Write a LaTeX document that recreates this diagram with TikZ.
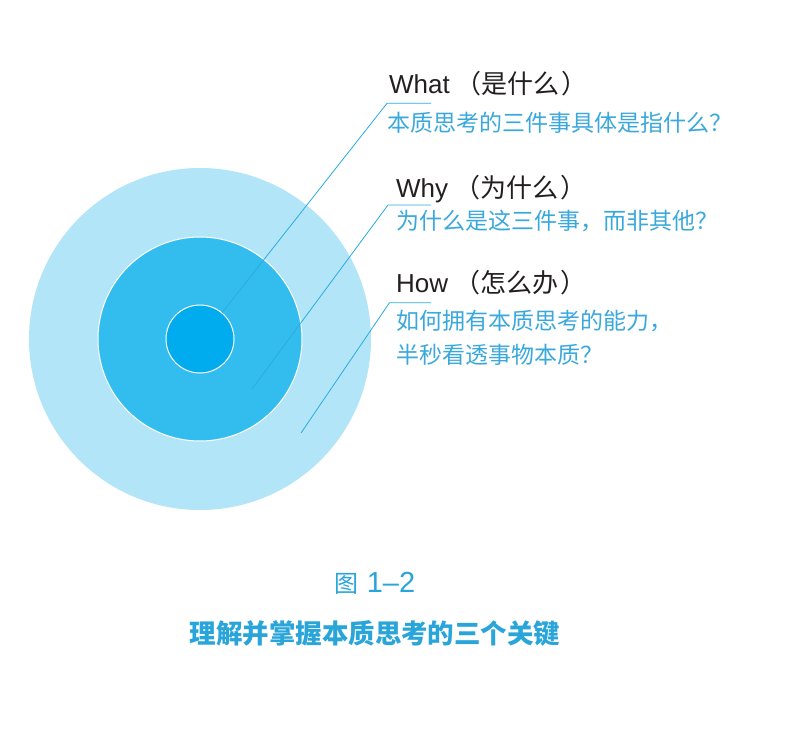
\documentclass[tikz,border=0pt]{standalone}
\usepackage{fontspec}
\setmainfont{Liberation Sans}
\newfontfamily\cjk{Noto Sans CJK SC}
\definecolor{ringout}{HTML}{B3E5F8}
\definecolor{ringmid}{HTML}{33BDEF}
\definecolor{ringin}{HTML}{00ACED}
\definecolor{leadblue}{HTML}{29ABE2}
\definecolor{qblue}{HTML}{3AA8DB}
\definecolor{capblue}{HTML}{2AA5DA}
\definecolor{dkgray}{HTML}{231F20}

\tikzset{
  ring/.style={circle,inner sep=0pt,draw=white,line width=1pt},
  lead/.style={leadblue,line width=0.8pt},
  head/.style={anchor=base west,inner sep=0pt,dkgray,font=\fontsize{26}{30}\selectfont},
  quest/.style={anchor=base west,inner sep=0pt,qblue,align=left,font=\cjk\fontsize{23}{33.3}\selectfont},
}

\begin{document}
\begin{tikzpicture}[x=1pt,y=-1pt]
\useasboundingbox (0,0) rectangle (788,734);

% ===== Rings =====
\node[ring,fill=ringout,draw=none,minimum size=342pt] (outer) at (200,339) {};
\node[ring,fill=ringmid,minimum size=204pt] (middle) at (200,339) {};
\node[ring,fill=ringin,minimum size=68pt] (inner) at (200,339) {};

% ===== Questions =====
\node[head] (what) at (389,93.3) {What\hspace{6pt}{\cjk（是什么\hspace{2pt}）}};
\node[quest] (whatq) at (387,131) {本质思考的三件事具体是指什么？};

\node[head] (why) at (396,197) {Why\hspace{6pt}{\cjk（为什么\hspace{2pt}）}};
\node[quest] (whyq) at (396,229.7) {为什么是这三件事，而非其他？};

\node[head] (how) at (396,292.7) {How\hspace{6pt}{\cjk（怎么办\hspace{2pt}）}};
% base of a two-line node sits on its last line
\node[quest] (howq) at (396,363) {如何拥有本质思考的能力，\\半秒看透事物本质？};

% ===== Leaders =====
\coordinate (whatknee) at (387,103.3);
\coordinate (whattail) at (431,103.3);
\coordinate (whyin) at (252,389);
\coordinate (whyknee) at (388,205);
\coordinate (whytail) at (431,205);
\coordinate (howin) at (301,433);
\coordinate (howknee) at (389.5,302.7);
\coordinate (howtail) at (431,302.7);

\draw[lead] (inner.50) -- (whatknee) -- (whattail);
\draw[lead] (whyin) -- (whyknee) -- (whytail);
\draw[lead] (howin) -- (howknee) -- (howtail);

% ===== Caption =====
\node[anchor=base,inner sep=0pt,capblue] (fignum) at (375,592)
  {{\cjk\fontsize{24}{28}\selectfont 图}\fontsize{29}{32}\selectfont\ 1–2};
\node[anchor=base,inner sep=0pt,capblue,font=\cjk\bfseries\fontsize{26.5}{30}\selectfont] (figtitle) at (375,643)
  {理解并掌握本质思考的三个关键};

\end{tikzpicture}
\end{document}
